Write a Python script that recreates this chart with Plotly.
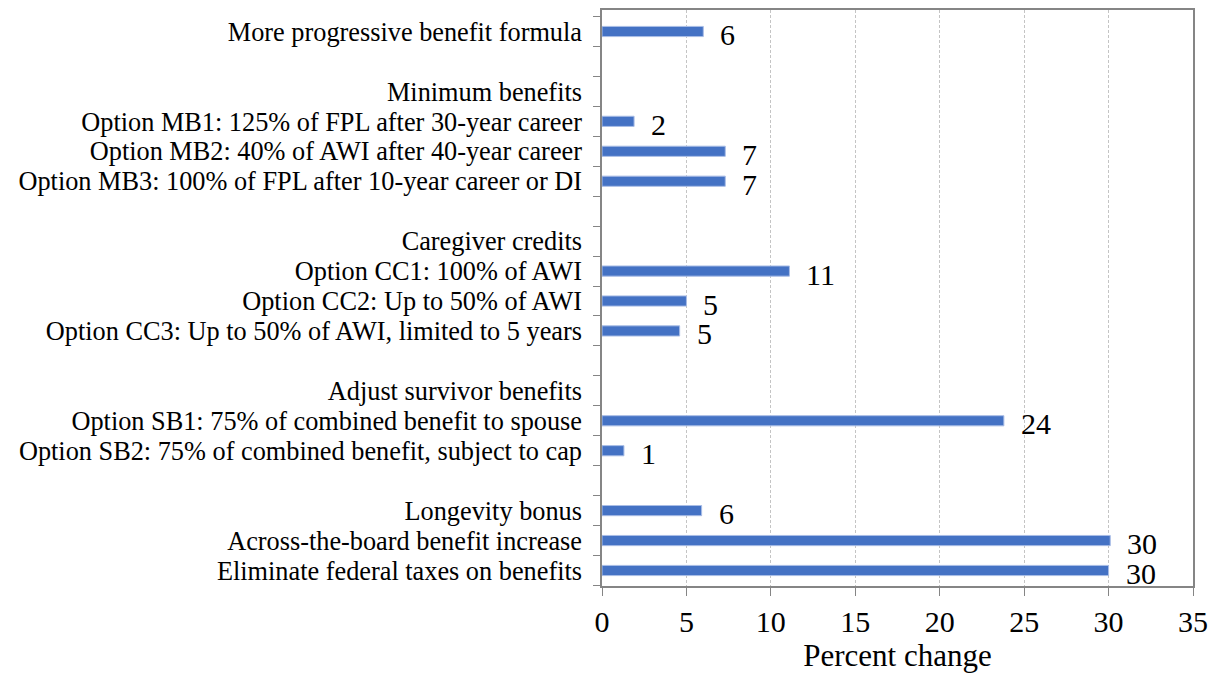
import plotly.graph_objects as go

categories = [
    "More progressive benefit formula",
    " ",
    "Minimum benefits",
    "Option MB1: 125% of FPL after 30-year career",
    "Option MB2: 40% of AWI after 40-year career",
    "Option MB3: 100% of FPL after 10-year career or DI",
    "  ",
    "Caregiver credits",
    "Option CC1: 100% of AWI",
    "Option CC2: Up to 50% of AWI",
    "Option CC3: Up to 50% of AWI, limited to 5 years",
    "   ",
    "Adjust survivor benefits",
    "Option SB1: 75% of combined benefit to spouse",
    "Option SB2: 75% of combined benefit, subject to cap",
    "    ",
    "Longevity bonus",
    "Across-the-board benefit increase",
    "Eliminate federal taxes on benefits",
]
values = [6.0, None, None, 1.9, 7.3, 7.3, None, None, 11.1, 5.0, 4.6,
          None, None, 23.8, 1.3, None, 5.9, 30.1, 30.0]
value_labels = ["6", None, None, "2", "7", "7", None, None, "11", "5", "5",
                None, None, "24", "1", None, "6", "30", "30"]
x_ticks = [0, 5, 10, 15, 20, 25, 30, 35]

FONT = "Liberation Serif, Times New Roman, serif"
AXIS_COLOR = "#858585"

fig = go.Figure()
fig.add_trace(go.Bar(
    y=categories, x=values, orientation="h",
    marker=dict(color="#4472C4", line=dict(color="#a9bde6", width=1)),
    width=0.34, hoverinfo="x+y",
))

for c, v, t in zip(categories, values, value_labels):
    if v is None:
        continue
    fig.add_annotation(
        x=v, y=c, text=t, showarrow=False, xanchor="left", yanchor="middle",
        xshift=15, yshift=-3, font=dict(family=FONT, size=30, color="black"),
    )

fig.update_layout(
    width=1219, height=677,
    margin=dict(l=594, r=34, t=2, b=99),
    paper_bgcolor="white", plot_bgcolor="white",
    showlegend=False,
    font=dict(family=FONT, color="black"),
)
fig.update_xaxes(
    automargin=False,
    range=[0, 35], tickvals=x_ticks, ticktext=[str(t) for t in x_ticks],
    showgrid=True, gridcolor="#c4c4c4", griddash="3px,2px", gridwidth=1,
    showline=True, linecolor=AXIS_COLOR, linewidth=1.5, mirror=True,
    ticks="outside", ticklen=8, tickcolor=AXIS_COLOR, tickwidth=1,
    tickfont=dict(family=FONT, size=30, color="black"),
    title=dict(text="Percent change", font=dict(family=FONT, size=31, color="black"), standoff=8),
    zeroline=False,
)
fig.update_yaxes(
    automargin=False,
    type="category", categoryorder="array", categoryarray=categories,
    tickmode="array", tickvals=categories, ticktext=categories,
    autorange="reversed",
    showgrid=False, showline=True, linecolor=AXIS_COLOR, linewidth=1.5, mirror=True,
    ticks="outside", tickson="boundaries", ticklen=7, tickcolor=AXIS_COLOR, tickwidth=1,
    tickfont=dict(family=FONT, size=26.3, color="black"),
    ticklabelstandoff=13,
)

fig.write_html("out.html")
